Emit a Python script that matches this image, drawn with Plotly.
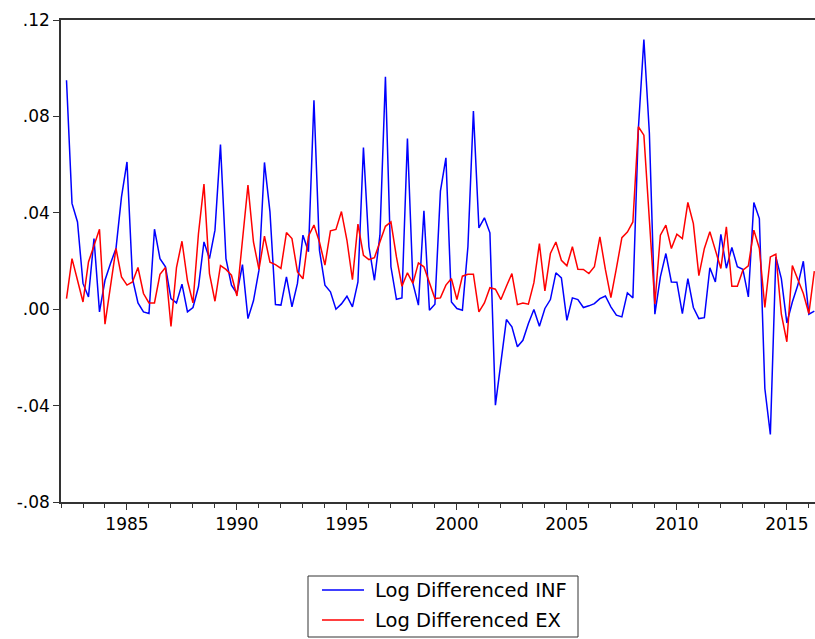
import pandas as pd
import plotly.graph_objects as go

# Quarterly observations 1982Q2 - 2016Q2
periods = pd.period_range("1982Q2", "2016Q2", freq="Q")

inf_vals = [
    0.0950, 0.0439, 0.0362, 0.0107, 0.0051, 0.0293, -0.0011, 0.0120, 0.0190, 0.0252,
    0.0466, 0.0611, 0.0127, 0.0026, -0.0011, -0.0018, 0.0332, 0.0210, 0.0176, 0.0044,
    0.0026, 0.0104, -0.0011, 0.0007, 0.0093, 0.0279, 0.0210, 0.0328, 0.0683, 0.0210,
    0.0100, 0.0065, 0.0185, -0.0039, 0.0035, 0.0162, 0.0609, 0.0404, 0.0019, 0.0017,
    0.0134, 0.0010, 0.0107, 0.0307, 0.0238, 0.0867, 0.0245, 0.0100, 0.0072, 0.0000,
    0.0022, 0.0054, 0.0010, 0.0113, 0.0671, 0.0259, 0.0120, 0.0307, 0.0964, 0.0176,
    0.0041, 0.0047, 0.0708, 0.0107, 0.0017, 0.0408, -0.0004, 0.0021, 0.0490, 0.0628,
    0.0030, 0.0003, -0.0004, 0.0259, 0.0822, 0.0337, 0.0379, 0.0317, -0.0398, -0.0212,
    -0.0043, -0.0073, -0.0156, -0.0129, -0.0059, -0.0001, -0.0071, 0.0003, 0.0040, 0.0151,
    0.0130, -0.0046, 0.0047, 0.0040, 0.0007, 0.0014, 0.0023, 0.0044, 0.0055, 0.0010,
    -0.0025, -0.0032, 0.0068, 0.0047, 0.0750, 0.1119, 0.0730, -0.0021, 0.0134, 0.0231,
    0.0113, 0.0112, -0.0018, 0.0127, 0.0007, -0.0039, -0.0035, 0.0172, 0.0113, 0.0311,
    0.0170, 0.0256, 0.0176, 0.0166, 0.0051, 0.0443, 0.0376, -0.0329, -0.0520, 0.0217,
    0.0127, -0.0057, 0.0030, 0.0100, 0.0199, -0.0021, -0.0008,
]

ex_vals = [
    0.0044, 0.0210, 0.0120, 0.0030, 0.0196, 0.0266, 0.0332, -0.0062, 0.0093, 0.0252,
    0.0134, 0.0100, 0.0113, 0.0173, 0.0065, 0.0026, 0.0026, 0.0145, 0.0173, -0.0071,
    0.0173, 0.0282, 0.0118, 0.0026, 0.0314, 0.0519, 0.0148, 0.0033, 0.0181, 0.0165,
    0.0141, 0.0055, 0.0286, 0.0515, 0.0279, 0.0165, 0.0303, 0.0195, 0.0185, 0.0169,
    0.0318, 0.0293, 0.0155, 0.0126, 0.0303, 0.0349, 0.0279, 0.0183, 0.0325, 0.0331,
    0.0405, 0.0286, 0.0123, 0.0353, 0.0224, 0.0206, 0.0214, 0.0279, 0.0344, 0.0362,
    0.0217, 0.0095, 0.0151, 0.0107, 0.0192, 0.0176, 0.0113, 0.0044, 0.0047, 0.0100,
    0.0127, 0.0040, 0.0137, 0.0145, 0.0145, -0.0011, 0.0026, 0.0089, 0.0083, 0.0040,
    0.0095, 0.0148, 0.0019, 0.0026, 0.0021, 0.0110, 0.0272, 0.0076, 0.0231, 0.0279,
    0.0203, 0.0180, 0.0259, 0.0166, 0.0165, 0.0148, 0.0176, 0.0300, 0.0165, 0.0048,
    0.0169, 0.0297, 0.0320, 0.0362, 0.0757, 0.0722, 0.0370, 0.0022, 0.0307, 0.0349,
    0.0252, 0.0311, 0.0293, 0.0443, 0.0355, 0.0139, 0.0252, 0.0321, 0.0245, 0.0169,
    0.0342, 0.0095, 0.0095, 0.0162, 0.0180, 0.0328, 0.0252, 0.0007, 0.0217, 0.0228,
    -0.0021, -0.0135, 0.0181, 0.0120, 0.0065, -0.0018, 0.0158,
]

series_names = ["Log Differenced INF", "Log Differenced EX"]
series_colors = ["#0000FF", "#FF0000"]

y_tick_vals = [-0.08, -0.04, 0.00, 0.04, 0.08, 0.12]
y_tick_text = ["-.08", "-.04", ".00", ".04", ".08", ".12"]
x_tick_vals = [1985, 1990, 1995, 2000, 2005, 2010, 2015]
x_tick_text = ["1985", "1990", "1995", "2000", "2005", "2010", "2015"]

x = [p.year + (p.quarter - 1) / 4 for p in periods]

FONT = "DejaVu Sans"
AXIS_COLOR = "#333333"

W, H = 815, 639
ML, MR, MT, MB = 61, 0, 20, 137
PW, PH = W - ML - MR, H - MT - MB


def px_x(px):
    return (px - ML) / PW


def px_y(py):
    return (H - MB - py) / PH


fig = go.Figure()
for vals, name, color in zip([inf_vals, ex_vals], series_names, series_colors):
    fig.add_trace(go.Scatter(x=x, y=vals, mode="lines", name=name,
                             line=dict(color=color, width=1.5), showlegend=False,
                             hoverinfo="skip"))

# Legend box (drawn as shapes + text so it sits exactly like the original)
shapes = [dict(type="rect", xref="paper", yref="paper",
               x0=px_x(308), x1=px_x(578), y0=px_y(637), y1=px_y(576),
               line=dict(color="#333333", width=1), fillcolor="white", layer="above")]
annotations = []
for i, (name, color) in enumerate(zip(series_names, series_colors)):
    row_y = 590 + 30 * i
    shapes.append(dict(type="line", xref="paper", yref="paper",
                       x0=px_x(322), x1=px_x(364), y0=px_y(row_y), y1=px_y(row_y),
                       line=dict(color=color, width=1.5), layer="above"))
    annotations.append(dict(xref="paper", yref="paper", x=px_x(373), y=px_y(row_y),
                            text=name, showarrow=False, xanchor="left", yanchor="middle",
                            font=dict(family=FONT, size=19.5, color="black")))

fig.update_layout(
    width=W, height=H,
    margin=dict(l=ML, r=MR, t=MT, b=MB, autoexpand=False),
    plot_bgcolor="white", paper_bgcolor="white",
    font=dict(family=FONT, size=17, color="black"),
    showlegend=False,
    shapes=shapes,
    annotations=annotations,
)

fig.update_xaxes(
    range=[1982, 2016.28],
    showgrid=False, zeroline=False,
    showline=True, linecolor=AXIS_COLOR, linewidth=1.5, mirror=True,
    tickmode="array", tickvals=x_tick_vals, ticktext=x_tick_text,
    ticks="outside", ticklen=6, tickcolor=AXIS_COLOR, tickwidth=1,
    minor=dict(dtick=1, tick0=1982, ticks="outside", ticklen=4, tickcolor=AXIS_COLOR,
               tickwidth=1, showgrid=False),
    tickfont=dict(family=FONT, size=17, color="black"),
)
fig.update_yaxes(
    range=[-0.08, 0.12],
    showgrid=False, zeroline=False,
    showline=True, linecolor=AXIS_COLOR, linewidth=1.5, mirror=False,
    tickmode="array", tickvals=y_tick_vals, ticktext=y_tick_text,
    ticks="outside", ticklen=6, tickcolor=AXIS_COLOR, tickwidth=1,
    tickfont=dict(family=FONT, size=17, color="black"),
)

fig.write_html(
    "out.html",
    config={"displayModeBar": False},
    post_script="document.body.style.margin='0';document.body.style.overflow='hidden';",
)
